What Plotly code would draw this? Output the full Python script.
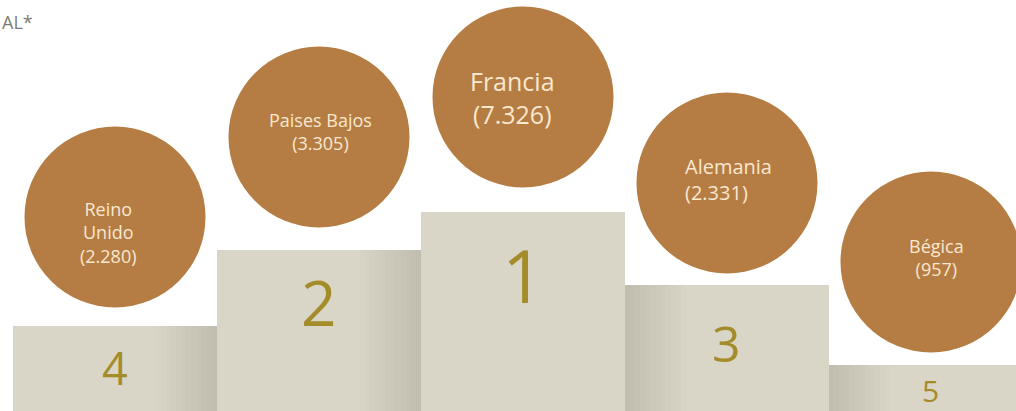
import plotly.graph_objects as go

# ---------------- data ----------------
countries = ["Reino<br>Unido", "Paises Bajos", "Francia", "Alemania", "Bégica"]
values = [2280, 3305, 7326, 2331, 957]
ranks = ["4", "2", "1", "3", "5"]
podium_height = [85, 161, 199, 126, 46]      # step heights
bubble_height = [194, 274, 314, 228, 149]    # bubble centre heights

# ---------------- styles ----------------
FONT = "Open Sans"
BLOCK = "#D9D6C7"
BUBBLE = "#B57D43"
BUBBLE_TXT = "#F8E8D0"
DIGIT = "#A58C2B"
label_size = [18, 18, 25, 20, 18]
label_xshift = [-6, 2, -10, 2, 6]
label_yshift = [-15, 6, 0, 4, 5]
label_align = ["center", "center", "center", "left", "center"]
digit_size = [45, 62, 74, 50, 30]
digit_drop = [41, 52, 62, 58, 25]

idx = list(range(len(countries)))
labels = [f"{c}<br>({v:,})".replace(",", ".") for c, v in zip(countries, values)]

fig = go.Figure()

# podium blocks
fig.add_trace(go.Bar(
    x=idx, y=podium_height, width=1.0,
    marker=dict(color=BLOCK, line=dict(width=0)),
    hoverinfo="skip",
))

# soft shading on the side facing the winner's step (nested translucent strips)
N = 12
shade_w = 0.30
side = [1 if i < 2 else (-1 if i > 2 else 0) for i in idx]
sx = [i for i in idx if side[i] != 0]
sy = [podium_height[i] for i in idx if side[i] != 0]
ss = [side[i] for i in idx if side[i] != 0]
for k in range(N):
    w = shade_w * (k + 1) / N
    offs = [(0.5 - w) if s > 0 else -0.5 for s in ss]
    fig.add_trace(go.Bar(
        x=sx, y=sy, width=[w] * len(sx), offset=offs,
        marker=dict(color="rgba(110,100,70,0.010)", line=dict(width=0)),
        hoverinfo="skip",
    ))

# bubbles
fig.add_trace(go.Scatter(
    x=idx, y=bubble_height, mode="markers",
    marker=dict(size=181, color=BUBBLE, line=dict(width=0), opacity=1),
    hoverinfo="skip", cliponaxis=False,
))

annotations = []
for i in idx:
    annotations.append(dict(
        x=i, y=bubble_height[i], xref="x", yref="y", text=labels[i],
        showarrow=False, align=label_align[i],
        xshift=label_xshift[i], yshift=label_yshift[i],
        font=dict(family=FONT, size=label_size[i], color=BUBBLE_TXT),
    ))
    annotations.append(dict(
        x=i, y=podium_height[i], xref="x", yref="y", text=ranks[i],
        showarrow=False, yanchor="middle", yshift=-digit_drop[i],
        font=dict(family=FONT, size=digit_size[i], color=DIGIT),
    ))

annotations.append(dict(
    x=0, y=1, xref="paper", yref="paper", text="AL*", showarrow=False,
    xanchor="left", yanchor="top", xshift=0, yshift=-8,
    font=dict(family=FONT, size=18, color="#7E7C72"),
))

fig.update_layout(
    width=1016, height=411,
    margin=dict(l=0, r=0, t=0, b=0),
    paper_bgcolor="white", plot_bgcolor="white",
    barmode="overlay", bargap=0, showlegend=False,
    xaxis=dict(range=[-0.5637, 4.4167], visible=False, fixedrange=True),
    yaxis=dict(range=[0, 411], visible=False, fixedrange=True),
    annotations=annotations,
)

fig.write_html("out.html", config={"displayModeBar": False})

# remove the browser's default page margin so the chart sits at the window origin
with open("out.html", "r", encoding="utf-8") as f:
    html = f.read()
html = html.replace("<head>", "<head><style>html,body{margin:0;padding:0;overflow:hidden;}</style>", 1)
with open("out.html", "w", encoding="utf-8") as f:
    f.write(html)
